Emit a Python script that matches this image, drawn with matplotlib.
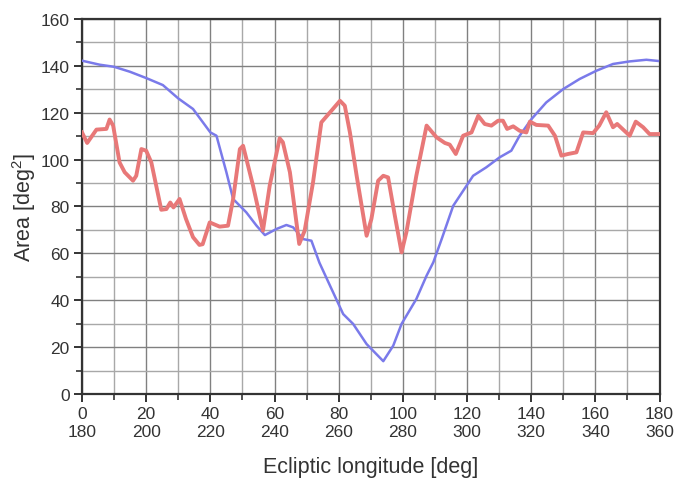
'''
area vs ecliptic longitude, two curves
'''

import matplotlib
matplotlib.use('Agg')
import matplotlib.pyplot as plt
from matplotlib.ticker import MultipleLocator

# blue curve
BLUE_X = [0, 5.5, 10, 14.9, 20, 25.2, 30, 34.6, 40, 41.9, 45.0, 47.1, 51.2, 54.4,
          57.0, 60.6, 63.7, 65.8, 68.9, 71.5, 74.0, 77.3, 81.4, 84.5, 88.7, 93.9,
          97.0, 99.6, 104.2, 107.4, 109.5, 112.1, 115.7, 118.8, 121.9, 126.0,
          130.2, 133.8, 136.4, 140.1, 144.7, 150.0, 155.1, 160.3, 165.5, 170.7,
          175.9, 179.5]
BLUE_Y = [142.2, 140.5, 139.6, 137.5, 134.8, 131.8, 126.1, 121.6, 111.6, 110.2,
          94.6, 83.2, 77.5, 71.8, 67.8, 70.4, 72.1, 71.1, 66.1, 65.4, 56.0, 46.2,
          34.1, 29.9, 21.3, 14.0, 20.6, 29.9, 40.5, 50.5, 56.2, 66.1, 80.3, 86.7,
          93.1, 96.7, 101.0, 103.8, 110.2, 117.3, 124.4, 130.1, 134.4, 137.9,
          140.8, 141.9, 142.6, 142.1]

# red curve
RED_X = [0, 1.6, 4.5, 7.6, 8.6, 9.7, 11.7, 13.3, 15.9, 16.9, 18.5, 20, 21.6, 24.7,
         26.3, 27.5, 28.5, 30.4, 32.4, 34.6, 36.6, 37.6, 39.8, 42.9, 45.5, 47.1,
         49.2, 50.2, 53.3, 56.4, 58.5, 61.6, 62.6, 64.8, 67.7, 69.4, 72.0, 74.6,
         78.2, 80.4, 81.9, 83.5, 85.6, 88.7, 90.2, 92.3, 93.9, 95.4, 97.5, 99.6,
         101.1, 104.2, 107.4, 110.5, 113.1, 114.6, 116.5, 118.8, 121.4, 123.5,
         125.5, 127.6, 129.7, 131.2, 132.5, 134.4, 136.4, 138.5, 139.6, 141.6,
         145.3, 147.4, 149.4, 151.5, 154.1, 156.2, 159.3, 161.2, 163.4, 165.5,
         166.8, 170.7, 172.6, 174.9, 176.9, 179.8]
RED_Y = [111.6, 107.1, 112.8, 113.1, 117.1, 114.5, 98.8, 94.6, 91.0, 93.1, 104.5,
         103.8, 98.8, 78.6, 78.9, 81.7, 79.6, 83.2, 74.7, 66.9, 63.6, 63.9, 73.2,
         71.4, 71.8, 83.2, 104.5, 105.9, 88.9, 69.7, 88.9, 109.1, 107.4, 94.6,
         64.0, 69.7, 90.3, 115.9, 121.6, 125.1, 123.0, 111.6, 93.1, 67.5, 74.7,
         91.0, 93.1, 92.4, 76.1, 60.4, 69.0, 93.1, 114.5, 109.5, 107.1, 106.4,
         102.4, 110.2, 111.6, 118.7, 115.2, 114.5, 116.6, 116.6, 113.1, 114.2,
         112.3, 111.6, 116.2, 114.8, 114.5, 110.2, 101.7, 102.4, 103.1, 111.6,
         111.3, 114.5, 120.2, 113.8, 115.2, 110.2, 116.2, 113.8, 110.9, 110.9]

X_TICKS = list(range(0, 181, 20))
X_TICK_LABELS = ['{}\n{}'.format(t, t + 180) for t in X_TICKS]

plt.rcParams['font.family'] = ['Liberation Sans', 'DejaVu Sans']
plt.rcParams['mathtext.default'] = 'regular'
TEXT = '#333333'

fig = plt.figure(figsize=(6.79, 4.85), dpi=100)
ax = fig.add_axes([0.1208, 0.1856, 0.8505, 0.7732])

ax.plot(BLUE_X, BLUE_Y, color='#7a7aea', lw=1.8, zorder=3)
ax.plot(RED_X, RED_Y, color='#e87878', lw=2.8, zorder=4)

ax.set_xlim(0, 180)
ax.set_ylim(0, 160)
ax.set_xticks(X_TICKS)
ax.set_xticklabels(X_TICK_LABELS)
ax.xaxis.set_minor_locator(MultipleLocator(10))
ax.yaxis.set_major_locator(MultipleLocator(20))
ax.yaxis.set_minor_locator(MultipleLocator(10))

ax.grid(which='major', color='#808080', lw=1.0, zorder=0)
ax.grid(which='minor', color='#a8a8a8', lw=1.0, zorder=0)
ax.set_axisbelow(True)

for sp in ax.spines.values():
    sp.set_color('#333333')
    sp.set_linewidth(1.6)

ax.tick_params(which='major', direction='out', length=6, width=1.4,
               color='#333333', labelcolor=TEXT, labelsize=12.5, pad=3)
ax.tick_params(which='minor', direction='out', length=4, width=1.2,
               color='#333333')
ax.tick_params(axis='x', which='both', top=False)
ax.tick_params(axis='y', which='both', right=False)

ax.set_xlabel('Ecliptic longitude [deg]', fontsize=15.5, color=TEXT, labelpad=12)
ax.set_ylabel('Area [deg$^{2}$]', fontsize=15.5, color=TEXT, labelpad=2)

fig.savefig('out.png', dpi=100)
